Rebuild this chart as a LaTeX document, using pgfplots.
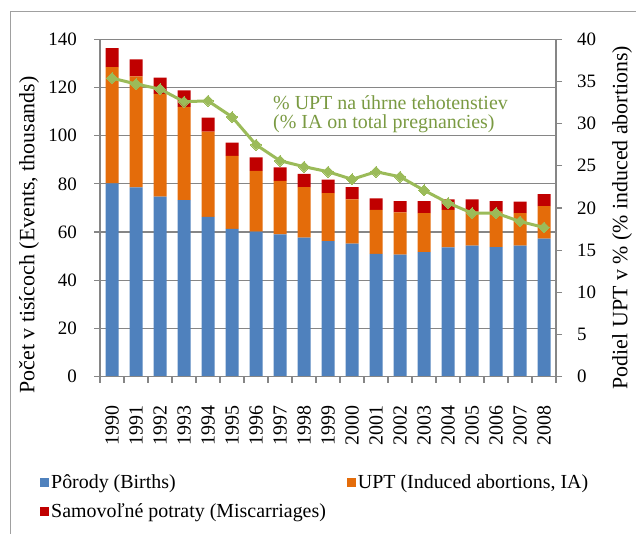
\documentclass[border=0pt]{standalone}
\usepackage{fontspec}
\setmainfont{Liberation Serif}
\usepackage{pgfplots}
\usepackage{pgfplotstable}
\pgfplotsset{compat=1.18}
\definecolor{cBirth}{RGB}{79,129,189}
\definecolor{cUPT}{RGB}{228,108,10}
\definecolor{cMisc}{RGB}{192,0,0}
\definecolor{cLine}{RGB}{155,187,89}
\definecolor{cText}{RGB}{122,154,66}
\definecolor{cGrid}{RGB}{134,134,134}
\definecolor{cFrame}{RGB}{160,160,160}

\pgfplotstableread{
x births upt misc pct
0  80.2 48.2 7.9 35.4
1  78.6 46.0 7.1 34.7
2  74.7 42.6 6.8 34.1
3  73.3 38.7 6.8 32.6
4  66.3 35.4 5.8 32.7
5  61.3 30.3 5.5 30.8
6  60.2 25.2 5.6 27.5
7  59.1 22.2 5.6 25.6
8  57.7 21.0 5.5 24.9
9  56.2 20.0 5.6 24.3
10 55.2 18.4 5.1 23.4
11 51.0 18.2 4.8 24.3
12 50.6 17.6 4.6 23.7
13 51.7 16.2 4.9 22.1
14 53.7 15.5 4.4 20.6
15 54.4 14.1 5.1 19.4
16 53.8 14.7 4.3 19.4
17 54.4 13.5 4.7 18.4
18 57.3 13.5 5.0 17.7
}\datatable

\begin{document}
\begin{tikzpicture}[x=1bp,y=1bp]
\useasboundingbox (0,0) rectangle (636,534);
\clip (0,0) rectangle (636,534);
\draw[cFrame, line width=1.2bp] (10.5,-5) -- (10.5,522.5) -- (645,522.5);

\begin{axis}[
  at={(100bp,157.3bp)}, anchor=south west,
  width=456bp, height=337.4bp, scale only axis,
  ybar stacked, bar width=13bp,
  xmin=-0.5, xmax=18.5, ymin=0, ymax=140,
  axis y line*=left, axis x line*=bottom,
  axis line style={cGrid, line width=1.2bp},
  ytick={0,20,...,140},
  xtick={0,...,18},
  xticklabels={1990,1991,1992,1993,1994,1995,1996,1997,1998,1999,2000,2001,2002,2003,2004,2005,2006,2007,2008},
  xtick style={draw=none},
  ytick style={cGrid, line width=1.2bp},
  tick align=outside, major tick length=6bp,
  ymajorgrids, grid style={cGrid, line width=1.2bp},
  /pgf/number format/assume math mode=true,
  yticklabel style={font=\fontsize{19}{23}\selectfont, anchor=east, inner sep=0pt, xshift=-17bp},
  xticklabel style={font=\fontsize{20}{24}\selectfont, rotate=90, anchor=east, inner sep=0pt, xshift=-23bp},
  every axis y label/.style={at={(axis description cs:-0.1557,0.42)}, rotate=90, anchor=center, font=\fontsize{22}{26}\selectfont},
  ylabel={Počet v tisícoch (Events, thousands)},
  legend columns=2,
  legend cell align=left,
  legend style={at={(axis description cs:-0.1316,-0.285)}, anchor=north west, draw=none, fill=none, inner sep=0pt,
    font=\fontsize{20}{24}\selectfont, row sep=9bp,
    /tikz/every even column/.append style={column sep=19bp},
    nodes={inner sep=2bp}},
  legend image code/.code={\path[fill, draw=none] (0bp,-4.5bp) rectangle (9bp,4.5bp);},
]
\addplot[fill=cBirth, draw=none] table[x=x, y=births] {\datatable};
\addplot[fill=cUPT, draw=none] table[x=x, y=upt] {\datatable};
\addplot[fill=cMisc, draw=none] table[x=x, y=misc] {\datatable};
\legend{{Pôrody (Births)}, {UPT (Induced abortions, IA)}, {Samovoľné potraty (Miscarriages)}}
\end{axis}

\begin{axis}[
  at={(100bp,157.3bp)}, anchor=south west,
  width=456bp, height=337.4bp, scale only axis,
  xmin=-0.5, xmax=18.5, ymin=0, ymax=40,
  axis y line*=right, axis x line*=bottom,
  axis line style={cGrid, line width=1.2bp},
  xtick={-0.5,0.5,...,18.5}, xticklabels={},
  ytick={0,5,...,40},
  tick style={cGrid, line width=1.2bp},
  tick align=outside, major tick length=6bp,
  /pgf/number format/assume math mode=true,
  yticklabel style={font=\fontsize{19}{23}\selectfont, anchor=west, inner sep=0pt, xshift=15bp},
  every axis y label/.style={at={(axis description cs:1.1447,0.4717)}, rotate=90, anchor=center, font=\fontsize{22}{26}\selectfont},
  ylabel={Podiel UPT v \% (\% induced abortions)},
]
\addplot[cLine, line width=3bp, mark=square*, mark size=3.8bp,
  mark options={rotate=45, fill=cLine, draw=cLine, line width=0pt}] table[x=x, y=pct] {\datatable};
\end{axis}

\node[anchor=base west, text=cText, font=\fontsize{20}{24}\selectfont, inner sep=0pt] at (273,424) {\% UPT na úhrne tehotenstiev};
\node[anchor=base west, text=cText, font=\fontsize{20}{24}\selectfont, inner sep=0pt] at (273,405) {(\% IA on total pregnancies)};
\end{tikzpicture}
\end{document}
